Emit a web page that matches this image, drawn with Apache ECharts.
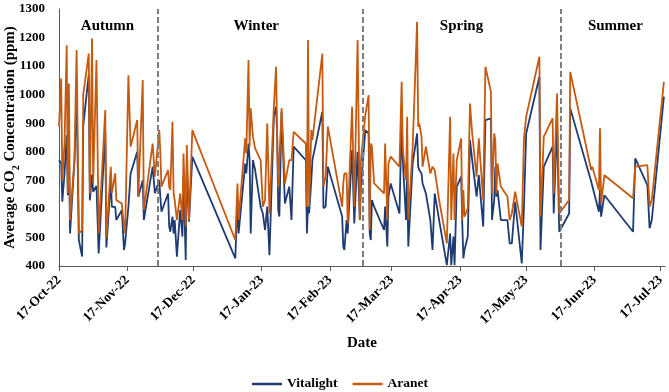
<!DOCTYPE html>
<html>
<head>
<meta charset="utf-8">
<script src="https://cdn.jsdelivr.net/npm/echarts@6/dist/echarts.min.js"></script>
<style>html,body{margin:0;padding:0;background:#fff}#c{width:669px;height:392px}</style>
</head>
<body>
<div id="c"></div>
<script>
// ---- data ----
const dates = [
'2022-10-17','2022-10-18','2022-10-18 12:00','2022-10-19 12:00','2022-10-20 12:00','2022-10-21','2022-10-21 12:00','2022-10-22','2022-10-24','2022-10-25',
'2022-10-26','2022-10-27 12:00','2022-10-28','2022-10-30 12:00','2022-10-31','2022-11-01','2022-11-01 12:00','2022-11-03','2022-11-04','2022-11-07',
'2022-11-07 12:00','2022-11-09 12:00','2022-11-10','2022-11-11 12:00','2022-11-12','2022-11-14 12:00','2022-11-15 12:00','2022-11-16','2022-11-17 12:00','2022-11-18 12:00',
'2022-11-21 12:00','2022-11-22','2022-11-24','2022-11-24 12:00','2022-11-28 12:00','2022-11-29 12:00',
'2022-12-01 12:00','2022-12-02','2022-12-02 12:00','2022-12-05 12:00','2022-12-06','2022-12-06 12:00','2022-12-07 12:00','2022-12-08','2022-12-08 12:00','2022-12-09 12:00',
'2022-12-11','2022-12-12','2022-12-12 12:00','2022-12-13 12:00','2022-12-14','2022-12-15','2022-12-16 12:00',
'2023-01-05','2023-01-06','2023-01-06 12:00','2023-01-09 12:00','2023-01-10','2023-01-11','2023-01-11 12:00','2023-01-12','2023-01-13','2023-01-14',
'2023-01-16 12:00','2023-01-17 12:00','2023-01-18 12:00','2023-01-19 12:00','2023-01-20 12:00','2023-01-22 12:00','2023-01-23 12:00','2023-01-24','2023-01-24 12:00','2023-01-25',
'2023-01-26','2023-01-26 12:00','2023-01-27 12:00','2023-01-29 12:00','2023-01-30 12:00','2023-01-31 12:00',
'2023-02-06','2023-02-06 12:00','2023-02-07','2023-02-07 12:00','2023-02-08 12:00','2023-02-09','2023-02-13 12:00','2023-02-14','2023-02-15','2023-02-16',
'2023-02-22 12:00','2023-02-23','2023-02-23 12:00','2023-02-24 12:00','2023-02-25','2023-02-27','2023-02-28',
'2023-03-01 12:00','2023-03-02 12:00','2023-03-03','2023-03-05','2023-03-06 12:00','2023-03-07','2023-03-07 12:00','2023-03-08','2023-03-09',
'2023-03-13 12:00','2023-03-14','2023-03-15','2023-03-15 12:00','2023-03-16 12:00','2023-03-20 12:00','2023-03-21 12:00','2023-03-22','2023-03-23 12:00','2023-03-24',
'2023-03-24 12:00','2023-03-26 12:00','2023-03-28 12:00','2023-03-29','2023-03-29 12:00','2023-03-30 12:00','2023-03-31',
'2023-04-01 12:00','2023-04-03 12:00','2023-04-04 12:00','2023-04-05 12:00','2023-04-07 12:00','2023-04-11','2023-04-12 12:00','2023-04-13','2023-04-14','2023-04-14 12:00',
'2023-04-15 12:00','2023-04-17 12:00','2023-04-18','2023-04-18 12:00','2023-04-19','2023-04-20 12:00','2023-04-21 12:00','2023-04-22 12:00','2023-04-24 12:00','2023-04-25 12:00',
'2023-04-27 12:00','2023-04-28 12:00',
'2023-05-01','2023-05-01 12:00','2023-05-02 12:00','2023-05-03','2023-05-03 12:00','2023-05-04','2023-05-05 12:00','2023-05-08 12:00','2023-05-09 12:00','2023-05-10 12:00',
'2023-05-12','2023-05-15','2023-05-16','2023-05-17','2023-05-23','2023-05-23 12:00','2023-05-25','2023-05-29','2023-05-29 12:00','2023-05-31',
'2023-06-01','2023-06-05 12:00','2023-06-06','2023-06-15 12:00','2023-06-16','2023-06-19','2023-06-19 12:00','2023-06-20','2023-06-21 12:00',
'2023-07-04 12:00','2023-07-05 12:00','2023-07-11','2023-07-12','2023-07-13','2023-07-18 12:00'
];
const vitalight = [
771,760,625,724,858,648,818,514,765,1000,
491,433,890,1070,630,720,660,680,444,870,
465,700,607,607,561,595,456,480,608,724,
800,643,700,561,748,655,
700,640,590,654,538,520,573,514,561,433,
596,503,713,421,759,555,783,
427,631,514,759,724,829,771,514,771,736,
608,584,526,608,438,923,958,853,596,573,
940,840,619,678,561,818,
771,514,608,584,700,771,940,602,608,748,
573,468,456,561,514,806,549,
800,561,678,876,864,514,491,631,608,
526,608,468,643,689,584,923,771,561,736,
468,759,864,748,736,724,689,
654,561,456,654,561,403,514,403,503,403,
678,713,549,427,456,503,841,771,643,718,
538,911,
917,561,631,748,643,666,561,561,479,479,
625,409,608,864,1063,456,748,818,584,900,
520,584,952,696,690,590,666,573,648,
520,777,683,532,561,993
];
const aranet = [
888,1057,701,829,1173,655,1039,561,770,1156,
514,526,1000,1144,654,1197,690,1121,514,946,
500,747,655,725,631,619,537,514,1068,818,
911,643,1051,596,829,713,
876,794,678,736,678,666,905,654,631,561,
654,561,794,538,824,561,876,
491,689,561,847,794,1121,818,952,853,812,
771,608,631,899,584,958,1098,864,678,678,
952,946,689,771,771,870,
829,608,1191,608,876,841,1144,678,713,888,
608,689,724,724,549,958,608,
1191,561,771,928,998,526,829,818,689,
654,829,561,759,783,748,1045,810,701,923,
561,818,1255,888,899,853,748,
818,724,748,736,631,479,923,561,794,561,
771,847,561,666,573,602,969,864,713,847,
631,1098,
1010,654,864,841,654,759,678,643,561,584,
660,538,847,923,1133,573,853,917,654,1004,
584,631,1080,736,748,666,882,619,718,
637,748,753,608,631,1045
];
const tickDates = ['2022-10-17','2022-11-17','2022-12-17','2023-01-17','2023-02-17','2023-03-17','2023-04-17','2023-05-17','2023-06-17','2023-07-17'];
const tickLabels = ['17-Oct-22','17-Nov-22','17-Dec-22','17-Jan-23','17-Feb-23','17-Mar-23','17-Apr-23','17-May-23','17-Jun-23','17-Jul-23'];
const seasonBreaks = ['2022-11-30 18:00','2023-03-04','2023-06-01 14:00'];
const seasonNames = ['Autumn','Winter','Spring','Summer'];
const seasonLabelDates = ['2022-11-08','2023-01-14 12:00','2023-04-17 16:00','2023-06-26 12:00'];
const seasonLabelValue = 1240;
const xMin = '2022-10-17', xMax = '2023-07-19';
const yTicks = {min: 400, max: 1300, step: 100};

// ---- chart ----
const P = s => echarts.time.parse(s).getTime();
const FONT = 'Liberation Serif';
const tickTs = tickDates.map(P);
const chart = echarts.init(document.getElementById('c'), null, {renderer: 'canvas'});
const axisColor = '#595959';
chart.setOption({
  animation: false,
  grid: {left: 59, right: 4, top: 9, bottom: 126, containLabel: false, outerBoundsMode: 'none'},
  legend: {
    data: ['Vitalight', 'Aranet'],
    left: 247, top: 372,
    icon: 'rect', itemWidth: 30, itemHeight: 2.5, itemGap: 15,
    textStyle: {fontFamily: FONT, fontWeight: 'bold', fontSize: 13.5, color: '#000'}
  },
  xAxis: {
    type: 'value',
    min: P(xMin), max: P(xMax),
    splitLine: {show: false},
    axisLine: {onZero: false, lineStyle: {color: axisColor, width: 1}},
    axisTick: {show: true, length: 5, lineStyle: {color: axisColor}, customValues: tickTs},
    axisLabel: {
      customValues: tickTs, rotate: 45, margin: 12,
      fontFamily: FONT, fontWeight: 'bold', fontSize: 13.5, color: '#000',
      formatter: function (v) {
        let best = 0;
        for (let i = 0; i < tickTs.length; i++) if (Math.abs(tickTs[i] - v) < Math.abs(tickTs[best] - v)) best = i;
        return tickLabels[best];
      }
    },
    name: 'Date', nameLocation: 'middle', nameGap: 70, nameMoveOverlap: false,
    nameTextStyle: {fontFamily: FONT, fontWeight: 'bold', fontSize: 15, color: '#000'}
  },
  yAxis: {
    type: 'value', min: yTicks.min, max: yTicks.max, interval: yTicks.step,
    splitLine: {show: false},
    axisLine: {show: true, lineStyle: {color: axisColor, width: 1}},
    axisTick: {show: false},
    axisLabel: {margin: 14, fontFamily: FONT, fontWeight: 'bold', fontSize: 13, color: '#000', formatter: v => String(v)},
    name: '{a|Average CO}{s|2}{a| Concentration (ppm)}',
    nameLocation: 'middle', nameGap: 41, nameMoveOverlap: false,
    nameTextStyle: {
      fontFamily: FONT, fontWeight: 'bold', fontSize: 15, color: '#000',
      rich: {
        a: {fontFamily: FONT, fontWeight: 'bold', fontSize: 15, color: '#000', lineHeight: 20, verticalAlign: 'bottom'},
        s: {fontFamily: FONT, fontWeight: 'bold', fontSize: 10, color: '#000', lineHeight: 20, verticalAlign: 'bottom', padding: [0, 0, -3, 0]}
      }
    }
  },
  series: [
    {
      name: 'Vitalight', type: 'line', symbol: 'none',
      lineStyle: {color: '#1F3B73', width: 1.8}, itemStyle: {color: '#1F3B73'},
      data: dates.map((d, i) => [P(d), vitalight[i]]),
      markLine: {
        silent: true, symbol: ['none', 'none'], label: {show: false},
        lineStyle: {color: '#7f7f7f', type: [6, 3], width: 2},
        data: seasonBreaks.map(d => ({xAxis: P(d)}))
      },
      markPoint: {
        silent: true, symbol: 'circle', symbolSize: 0,
        label: {show: true, position: 'inside', fontFamily: FONT, fontWeight: 'bold', fontSize: 15, color: '#000', formatter: p => p.name},
        data: seasonNames.map((n, i) => ({name: n, coord: [P(seasonLabelDates[i]), seasonLabelValue]}))
      }
    },
    {
      name: 'Aranet', type: 'line', symbol: 'none',
      lineStyle: {color: '#C55A11', width: 1.8}, itemStyle: {color: '#C55A11'},
      data: dates.map((d, i) => [P(d), aranet[i]])
    }
  ]
});
</script>
</body>
</html>
